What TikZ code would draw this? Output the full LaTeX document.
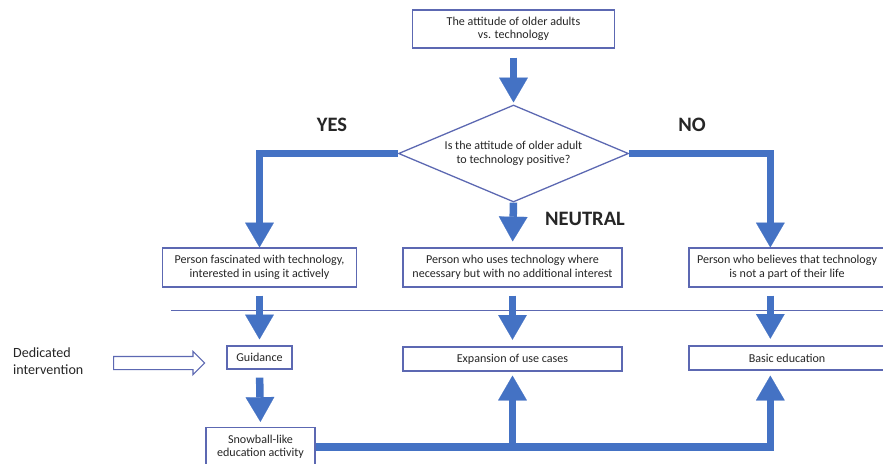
\documentclass[tikz,border=0pt]{standalone}
\usepackage{fontspec}
\setmainfont{Carlito}
\usepackage{tikz}
\usetikzlibrary{arrows.meta,shapes.geometric,shapes.arrows}
\definecolor{flowblue}{RGB}{68,114,196}
\definecolor{edgeblue}{RGB}{92,104,178}
\definecolor{inktext}{RGB}{38,38,38}

\begin{document}
\begin{tikzpicture}[x=0.03cm,y=-0.03cm,
    box/.style={draw=edgeblue,line width=1.1pt,fill=white,align=center,inner sep=0pt,
      text=inktext,font=\fontsize{10.3}{11.5}\selectfont},
    bigarrow/.style={draw=flowblue,line width=0.225cm,
      -{Triangle[width=0.86cm,length=0.74cm,line width=0.1pt]}},
    biglabel/.style={text=inktext,font=\fontsize{17.5}{20}\selectfont\bfseries}]
\useasboundingbox (0,0) rectangle (883,463);
\fill[white] (0,0) rectangle (883,463);

% question part
\node[box,minimum width=6.06cm,minimum height=1.14cm] (top) at(513.5,29) {The attitude of older adults\\vs. technology};
    \node[box,diamond,aspect=2.37,minimum width=6.9cm,minimum height=2.91cm] (ask) at(513.5,153.5) {Is the attitude of older adult\\to technology positive?};
    \node[biglabel] (yes) at(332,125) {YES};
    \node[biglabel] (no) at(692,125) {NO};
    \node[biglabel] (neutral) at(585,219) {NEUTRAL};

% three kinds of persons
\node[box,minimum width=5.82cm,minimum height=1.17cm] (yesbox) at(259.5,267.5) {Person fascinated with technology,\\interested in using it actively};
    \node[box,minimum width=6.57cm,minimum height=1.17cm] (midbox) at(512.5,267.5) {Person who uses technology where\\necessary but with no additional interest};
    \node[box,minimum width=5.88cm,minimum height=1.17cm] (nobox) at(787,267.5) {Person who believes that technology\\is not a part of their life};
    \draw [edgeblue,line width=0.8pt] (171,310) -- (895,310);

% interventions
\node[box,minimum width=1.95cm,minimum height=0.69cm] (guide) at(259.5,357.5) {Guidance};
    \node[box,minimum width=6.57cm,minimum height=0.72cm] (expand) at(512.5,359) {Expansion of use cases};
    \node[box,minimum width=5.88cm,minimum height=0.72cm] (basic) at(787,358) {Basic education};
    \node[box,minimum width=3.27cm,minimum height=1.17cm] (snow) at(260.5,447) {Snowball-like\\education activity};
    \node[anchor=west,align=left,text=inktext,font=\fontsize{12}{14.5}\selectfont] (dedicated) at(9,361.5) {Dedicated\\intervention};
    \node[single arrow,draw=edgeblue,fill=white,line width=1pt,anchor=tail,minimum height=2.73cm,
      inner xsep=0pt,inner ysep=0.18cm,single arrow head extend=0.15cm] (pointer) at(113,363) {};

% thick arrows
\draw [bigarrow,shorten <=0.27cm,shorten >=0.06cm] (top.south) -- (ask.north);
    \draw [bigarrow] (ask.west) -| (yesbox.north);
    \draw [bigarrow,shorten >=0.18cm] (ask.south) -- (midbox.north);
    \draw [bigarrow] (ask.east) -| ([xshift=-0.5cm]nobox.north);
    \draw [bigarrow,shorten <=0.24cm,shorten >=0.18cm] (yesbox.south) -- (guide.north);
    \draw [bigarrow,shorten <=0.24cm,shorten >=0.2cm] (midbox.south) -- (expand.north);
    \draw [bigarrow,shorten <=0.24cm,shorten >=0.2cm] ([xshift=-0.5cm]nobox.south) -- ([xshift=-0.5cm]basic.north);
    \draw [bigarrow,shorten <=0.24cm,shorten >=0.15cm] (guide.south) -- (snow.north);
    \draw [bigarrow,shorten >=0.15cm] (snow.east) -| ([xshift=-0.5cm]basic.south);
    \draw [bigarrow,shorten >=0.12cm] (snow.east -| expand.south) -- (expand.south);
\end{tikzpicture}
\end{document}
